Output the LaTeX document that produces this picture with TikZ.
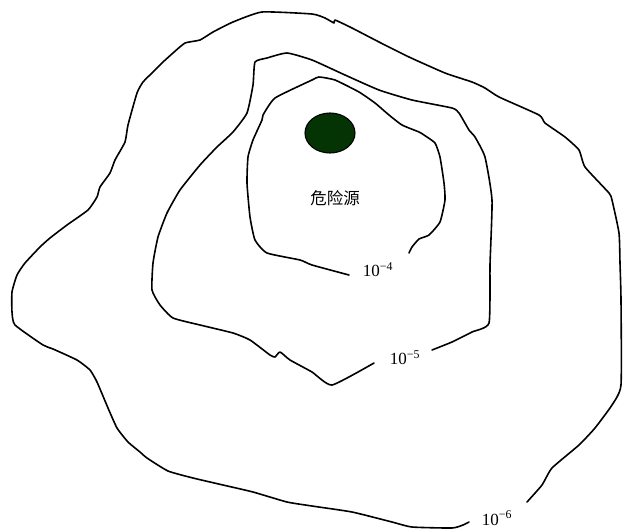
\documentclass[tikz,border=0pt]{standalone}
\usepackage{fontspec}
\setmainfont{Liberation Serif}
\newfontfamily\cjk{Noto Sans CJK SC}
\usepackage{tikz}
\usetikzlibrary{shapes.geometric}
\definecolor{hazardgreen}{RGB}{4,51,4}

\begin{document}
\begin{tikzpicture}[x=1pt, y=-1pt,
    contour/.style={line width=1.6pt, line join=round, line cap=round},
    level/.style={inner sep=1pt, font=\fontsize{17}{17}\selectfont},
    hazard/.style={ellipse, draw, line width=1.1pt, fill=hazardgreen, minimum width=50pt, minimum height=40pt}]
    \useasboundingbox (0,0) rectangle (624,531);

    % Hazard source and its name
    \node[hazard] (src) at (330,133) {};
    \node[font=\cjk\fontsize{16.5}{16.5}\selectfont] (srcname) at (335,198) {危险源};

    % Level labels
    \node[level] (l4) at (378,270) {10\textsuperscript{−4}};
    \node[level] (l5) at (405,358) {10\textsuperscript{−5}};
    \node[level] (l6) at (497,518) {10\textsuperscript{−6}};

    % Outer contour (10^-6)
    \draw[contour] plot[smooth, tension=0.3] coordinates {
        (527,502) (542,485) (552,468) (579,445) (595,428) (612,405) (621,385)
        (621,300) (620,263) (619,233) (612,200) (609,193) (585,167) (579,150)
        (565,137) (545,123) (539,115) (499,97) (485,88) (472,82) (445,73)
        (409,57) (379,42) (352,28) (335,20) (334,23) (325,18) (312,14)
        (262,12) (233,22) (213,32) (200,40) (185,43) (173,53) (163,62)
        (153,72) (143,82) (137,93) (128,125) (125,142) (115,160) (110,173)
        (100,187) (97,197) (88,210) (67,225) (50,238) (40,247) (25,263)
        (17,275) (12,292) (12,312) (15,325) (43,345) (53,349) (77,360)
        (90,370) (97,382) (108,408) (117,428) (128,442) (140,452) (147,458)
        (168,471) (193,478) (223,485) (253,492) (287,502) (312,506) (352,512)
        (392,522) (412,527) (452,528) (463,525) (469,522)};

    % Middle contour (10^-5)
    \draw[contour] plot[smooth, tension=0.3] coordinates {
        (432,350) (452,342) (472,332) (489,323) (490,265) (492,200) (485,157)
        (475,137) (469,130) (459,113) (452,108) (412,100) (379,90) (345,75)
        (312,60) (287,53) (267,58) (255,62) (253,85) (247,113) (233,132)
        (217,147) (200,165) (180,190) (167,213) (158,237) (153,263) (152,290)
        (160,305) (173,318) (200,325) (233,333) (250,340) (270,355) (275,357)
        (280,352) (290,360) (312,372) (332,385) (374,363)};

    % Inner contour (10^-4)
    \draw[contour] plot[smooth, tension=0.3] coordinates {
        (409,253) (412,247) (419,239) (429,235) (440,222) (445,200) (444,183)
        (440,157) (435,143) (424,135) (419,132) (402,125) (389,115) (375,103)
        (359,92) (335,80) (319,77) (312,80) (275,98) (263,115) (262,120)
        (253,140) (248,157) (247,183) (250,217) (255,240) (267,253) (300,260)
        (312,265) (349,275)};
\end{tikzpicture}
\end{document}
